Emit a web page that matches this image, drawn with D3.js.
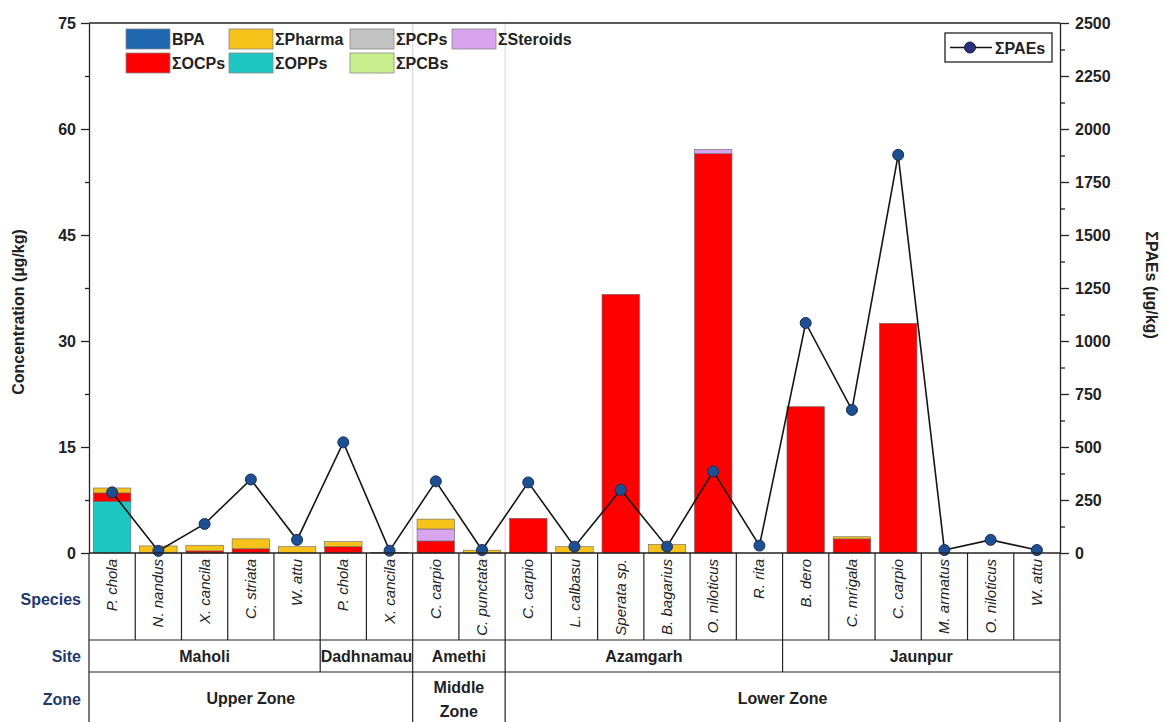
<!DOCTYPE html>
<html>
<head>
<meta charset="utf-8">
<script src="https://cdn.jsdelivr.net/npm/d3@7"></script>
<style>
  html, body { margin: 0; padding: 0; background: #fff; }
  svg { display: block; font-family: "Liberation Sans", Arial, sans-serif; }
</style>
</head>
<body>
<svg id="chart" width="1165" height="722"></svg>
<script>
// ---------------- DATA ----------------
const species = ["P. chola","N. nandus","X. cancila","C. striata","W. attu",
  "P. chola","X. cancila",
  "C. carpio","C. punctata",
  "C. carpio","L. calbasu","Sperata sp.","B. bagarius","O. niloticus","R. rita",
  "B. dero","C. mrigala","C. carpio","M. armatus","O. niloticus","W. attu"];
const siteNames  = ["Maholi","Dadhnamau","Amethi","Azamgarh","Jaunpur"];
const siteCounts = [5, 2, 2, 6, 6];
const zoneNames  = ["Upper Zone","Middle\nZone","Lower Zone"];
const zoneCounts = [7, 2, 12];

const seriesNames = ["BPA","ΣOPPs","ΣOCPs","ΣPCBs","ΣPCPs","ΣSteroids","ΣPharma"];
const bpa      = [0,0,0,0,0,0,0,0,0,0,0,0,0,0,0,0,0,0,0,0,0];
const opps     = [7.3,0,0,0,0,0,0,0,0,0,0,0,0,0,0,0,0,0,0,0,0];
const ocps     = [1.2,0,0.3,0.6,0,0.9,0,1.7,0,4.9,0,36.6,0,56.5,0,20.7,2.0,32.5,0,0,0];
const pcbs     = [0,0,0,0,0,0,0,0,0,0,0,0,0,0,0,0,0,0,0,0,0];
const pcps     = [0,0,0,0,0,0,0,0,0,0,0,0,0,0,0,0,0,0,0,0,0];
const steroids = [0,0,0,0,0,0,0,1.7,0,0,0,0,0,0.6,0,0,0,0,0,0,0];
const pharma   = [0.7,1.0,0.8,1.4,0.9,0.7,0.1,1.4,0.4,0,0.9,0,1.2,0,0,0,0.3,0,0,0,0];
const paes     = [286,10,137,347,62,522,11,338,14,333,30,298,30,385,35,1085,675,1878,14,62,14];

const leftTicks  = [0,15,30,45,60,75];
const rightTicks = [0,250,500,750,1000,1250,1500,1750,2000,2250,2500];

const legendRows = [
  [["BPA","#1f67b1"],["ΣPharma","#f7c21a"],["ΣPCPs","#c3c3c3"],["ΣSteroids","#d9a4ee"]],
  [["ΣOCPs","#fe0000"],["ΣOPPs","#1ec6c4"],["ΣPCBs","#c8ef8e"]]
];
const colors = {"BPA":"#1f67b1","ΣOPPs":"#1ec6c4","ΣOCPs":"#fe0000","ΣPCBs":"#c8ef8e",
                "ΣPCPs":"#c3c3c3","ΣSteroids":"#d9a4ee","ΣPharma":"#f7c21a"};

// ---------------- LAYOUT ----------------
const L = 89, R = 1060, T = 23, B = 553;
const rowSpeciesBottom = 640, rowSiteBottom = 672, tableBottom = 722;
const svg = d3.select("#chart");

const x = d3.scaleBand().domain(d3.range(species.length)).range([L, R]).paddingInner(0).paddingOuter(0);
const y = d3.scaleLinear().domain([0, 75]).range([B, T]);
const y2 = d3.scaleLinear().domain([0, 2500]).range([B, T]);
const bw = x.bandwidth();
const barW = bw * 0.81;

// zone separator lines (light gray) in plot
let acc = 0;
zoneCounts.slice(0, -1).forEach(c => {
  acc += c;
  svg.append("line").attr("x1", x(acc)).attr("x2", x(acc)).attr("y1", T).attr("y2", B)
    .attr("stroke", "#d6d6d6").attr("stroke-width", 1);
});

// stacked bars
const table = species.map((s, i) => ({
  i, "BPA": bpa[i], "ΣOPPs": opps[i], "ΣOCPs": ocps[i], "ΣPCBs": pcbs[i],
  "ΣPCPs": pcps[i], "ΣSteroids": steroids[i], "ΣPharma": pharma[i]
}));
const stack = d3.stack().keys(seriesNames)(table);
svg.append("g").selectAll("g").data(stack).join("g")
  .attr("fill", d => colors[d.key])
  .selectAll("rect").data(d => d.filter(p => p[1] - p[0] > 0)).join("rect")
  .attr("x", d => x(d.data.i) + (bw - barW) / 2)
  .attr("width", barW)
  .attr("y", d => y(d[1]))
  .attr("height", d => y(d[0]) - y(d[1]))
  .attr("stroke", "#666").attr("stroke-width", 0.6);

// line
const line = d3.line().x((d, i) => x(i) + bw / 2).y(d => y2(d));
svg.append("path").datum(paes).attr("d", line).attr("fill", "none")
  .attr("stroke", "#151515").attr("stroke-width", 1.6);
svg.append("g").selectAll("circle").data(paes).join("circle")
  .attr("cx", (d, i) => x(i) + bw / 2).attr("cy", d => y2(d)).attr("r", 5.5)
  .attr("fill", "#1d4f93").attr("stroke", "#1a2c55").attr("stroke-width", 1);

// frame top
svg.append("line").attr("x1", L).attr("x2", R).attr("y1", T).attr("y2", T)
  .attr("stroke", "#222").attr("stroke-width", 1.3);

// left axis
const leftAxis = d3.axisLeft(y).tickValues(leftTicks).tickSize(8).tickPadding(5).tickSizeOuter(0);
const gl = svg.append("g").attr("transform", `translate(${L},0)`).call(leftAxis);
svg.append("g").attr("transform", `translate(${L},0)`)
  .call(d3.axisLeft(y).tickValues(d3.range(7.5, 75, 15)).tickSize(4).tickFormat("").tickSizeOuter(0))
  .select(".domain").remove();
// right axis
const rightAxis = d3.axisRight(y2).tickValues(rightTicks).tickFormat(d3.format("d"))
  .tickSize(9).tickPadding(6).tickSizeOuter(0);
const gr = svg.append("g").attr("transform", `translate(${R},0)`).call(rightAxis);
svg.append("g").attr("transform", `translate(${R},0)`)
  .call(d3.axisRight(y2).tickValues(d3.range(125, 2500, 250)).tickSize(5).tickFormat("").tickSizeOuter(0))
  .select(".domain").remove();
svg.selectAll(".tick line, .domain").attr("stroke", "#222").attr("stroke-width", 1.3);
[gl, gr].forEach(g => g.selectAll("text").attr("font-size", 16).attr("font-weight", "bold")
  .attr("fill", "#222").attr("font-family", "'Liberation Sans', Arial, sans-serif"));

// bottom x line (zero line)
svg.append("line").attr("x1", L).attr("x2", R).attr("y1", B).attr("y2", B)
  .attr("stroke", "#222").attr("stroke-width", 1.3);

// axis titles
svg.append("text").attr("transform", `translate(24,312) rotate(-90)`)
  .attr("text-anchor", "middle").attr("font-size", 16).attr("font-weight", "bold").attr("fill", "#222")
  .text("Concentration (µg/kg)");
svg.append("text").attr("transform", `translate(1146,285) rotate(90)`)
  .attr("text-anchor", "middle").attr("font-size", 16).attr("font-weight", "bold").attr("fill", "#222")
  .text("ΣPAEs (µg/kg)");

// ---------------- TABLE ----------------
const tl = svg.append("g").attr("stroke", "#222").attr("stroke-width", 1.2);
// outer verticals
tl.append("line").attr("x1", L).attr("x2", L).attr("y1", B).attr("y2", tableBottom);
tl.append("line").attr("x1", R).attr("x2", R).attr("y1", B).attr("y2", tableBottom);
// horizontals
[rowSpeciesBottom, rowSiteBottom].forEach(yy =>
  tl.append("line").attr("x1", L).attr("x2", R).attr("y1", yy).attr("y2", yy));
// species separators
d3.range(1, species.length).forEach(i =>
  tl.append("line").attr("x1", x(i)).attr("x2", x(i)).attr("y1", B).attr("y2", rowSpeciesBottom));
// site separators & labels
acc = 0;
siteNames.forEach((s, k) => {
  const x0 = x(acc), x1 = acc + siteCounts[k] < species.length ? x(acc + siteCounts[k]) : R;
  if (k > 0) tl.append("line").attr("x1", x0).attr("x2", x0).attr("y1", rowSpeciesBottom).attr("y2", rowSiteBottom);
  svg.append("text").attr("x", (x0 + x1) / 2).attr("y", 662).attr("text-anchor", "middle")
    .attr("font-size", 16).attr("font-weight", "bold").attr("fill", "#222").text(s);
  acc += siteCounts[k];
});
// zone separators & labels
acc = 0;
zoneNames.forEach((z, k) => {
  const x0 = x(acc), x1 = acc + zoneCounts[k] < species.length ? x(acc + zoneCounts[k]) : R;
  if (k > 0) tl.append("line").attr("x1", x0).attr("x2", x0).attr("y1", rowSiteBottom).attr("y2", tableBottom);
  const lines = z.split("\n");
  const t = svg.append("text").attr("text-anchor", "middle").attr("font-size", 16)
    .attr("font-weight", "bold").attr("fill", "#222");
  if (lines.length === 1) {
    t.append("tspan").attr("x", (x0 + x1) / 2).attr("y", 704).text(lines[0]);
  } else {
    t.append("tspan").attr("x", (x0 + x1) / 2).attr("y", 693).text(lines[0]);
    t.append("tspan").attr("x", (x0 + x1) / 2).attr("y", 717).text(lines[1]);
  }
  acc += zoneCounts[k];
});
// species labels
species.forEach((s, i) => {
  svg.append("text")
    .attr("transform", `translate(${x(i) + bw / 2 + 5},${559}) rotate(-90)`)
    .attr("text-anchor", "end").attr("font-size", 15).attr("font-style", "italic").attr("fill", "#222")
    .text(s);
});
// row headers
[["Species", 605], ["Site", 662], ["Zone", 705]].forEach(([t, yy]) =>
  svg.append("text").attr("x", 81).attr("y", yy).attr("text-anchor", "end")
    .attr("font-size", 16).attr("font-weight", "bold").attr("fill", "#1f3a6e").text(t));

// ---------------- LEGENDS ----------------
const legX = [126, 229, 350, 452];
const legY = [29, 53];
legendRows.forEach((row, r) => row.forEach(([name, col], c) => {
  svg.append("rect").attr("x", legX[c]).attr("y", legY[r]).attr("width", 44).attr("height", 20)
    .attr("fill", col).attr("stroke", "#888").attr("stroke-width", 0.8);
  svg.append("text").attr("x", legX[c] + 46).attr("y", legY[r] + 16)
    .attr("font-size", 16).attr("font-weight", "bold").attr("fill", "#222").text(name);
}));
// PAEs legend
svg.append("rect").attr("x", 945).attr("y", 33).attr("width", 107).attr("height", 29)
  .attr("fill", "#fff").attr("stroke", "#222").attr("stroke-width", 1.3);
svg.append("line").attr("x1", 950).attr("x2", 992).attr("y1", 47.5).attr("y2", 47.5)
  .attr("stroke", "#151515").attr("stroke-width", 1.6);
svg.append("circle").attr("cx", 970).attr("cy", 47.5).attr("r", 5.5)
  .attr("fill", "#2a2f7a").attr("stroke", "#1a1f50");
svg.append("text").attr("x", 995).attr("y", 53.5).attr("font-size", 16).attr("font-weight", "bold")
  .attr("fill", "#222").text("ΣPAEs");
</script>
</body>
</html>
